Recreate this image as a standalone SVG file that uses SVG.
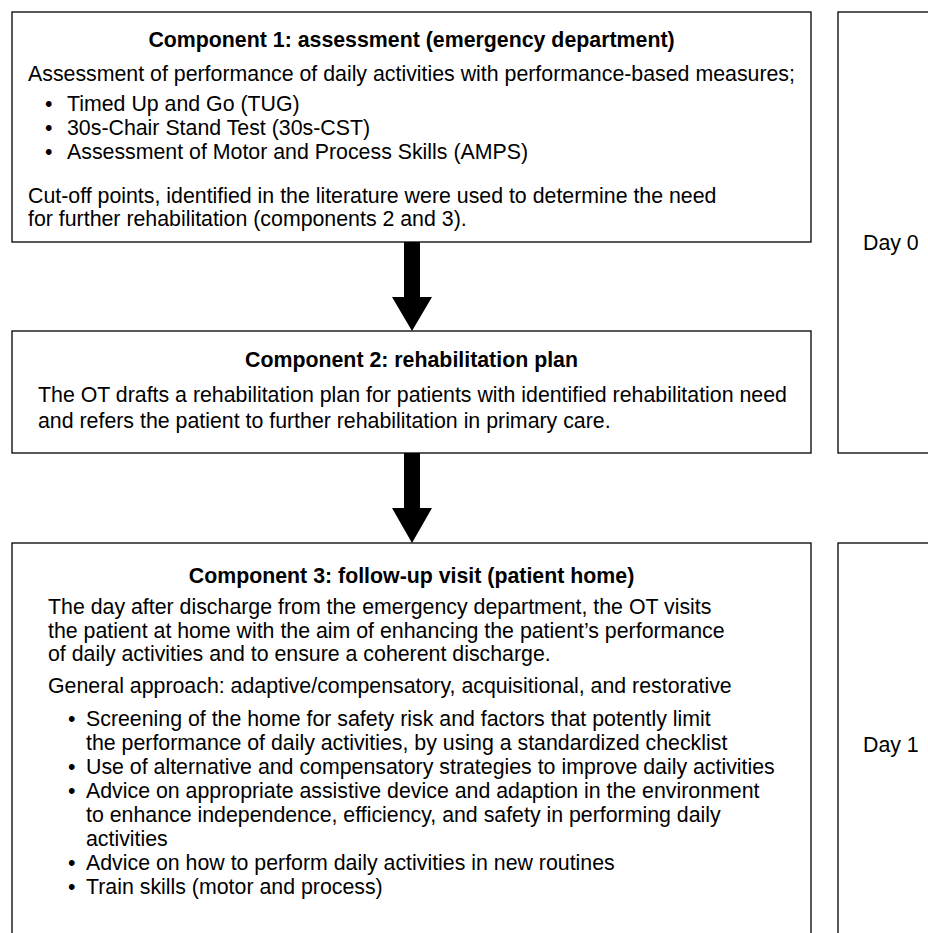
<svg xmlns="http://www.w3.org/2000/svg" width="928" height="933" viewBox="0 0 928 933">
<style>
.box{fill:#fff;stroke:#000;stroke-width:1.3}
text{font-family:"Liberation Sans",Arial,sans-serif;font-size:21.33px;fill:#000}
.t{font-weight:bold;text-anchor:middle}
.arrow{fill:#000}
</style>
<rect width="928" height="933" fill="#fff"/>
<g id="node-component1">
<rect class="box" x="12" y="12" width="799" height="230"/>
<text class="t" x="411.5" y="47">Component 1: assessment (emergency department)</text>
<text x="28" y="80.5">Assessment of performance of daily activities with performance-based measures;</text>
<text x="45" y="110.5">•</text><text x="67" y="110.5">Timed Up and Go (TUG)</text>
<text x="45" y="134.5">•</text><text x="67" y="134.5">30s-Chair Stand Test (30s-CST)</text>
<text x="45" y="158.5">•</text><text x="67" y="158.5">Assessment of Motor and Process Skills (AMPS)</text>
<text x="28" y="202.5">Cut-off points, identified in the literature were used to determine the need</text>
<text x="28" y="225.5">for further rehabilitation (components 2 and 3).</text>
</g>
<g id="node-component2">
<rect class="box" x="12" y="331" width="799" height="122"/>
<text class="t" x="411.5" y="367">Component 2: rehabilitation plan</text>
<text x="38" y="402">The OT drafts a rehabilitation plan for patients with identified rehabilitation need</text>
<text x="38" y="427.5">and refers the patient to further rehabilitation in primary care.</text>
</g>
<g id="node-component3">
<rect class="box" x="12" y="543" width="799" height="420"/>
<text class="t" x="411.5" y="582.5">Component 3: follow-up visit (patient home)</text>
<text x="48" y="613.5">The day after discharge from the emergency department, the OT visits</text>
<text x="48" y="637.5">the patient at home with the aim of enhancing the patient’s performance</text>
<text x="48" y="661">of daily activities and to ensure a coherent discharge.</text>
<text x="48" y="693">General approach: adaptive/compensatory, acquisitional, and restorative</text>
<text x="68" y="725.5">•</text><text x="86" y="725.5">Screening of the home for safety risk and factors that potently limit</text>
<text x="86" y="749.5">the performance of daily activities, by using a standardized checklist</text>
<text x="68" y="773.5">•</text><text x="86" y="773.5">Use of alternative and compensatory strategies to improve daily activities</text>
<text x="68" y="797.5">•</text><text x="86" y="797.5">Advice on appropriate assistive device and adaption in the environment</text>
<text x="86" y="821.5">to enhance independence, efficiency, and safety in performing daily</text>
<text x="86" y="845.5">activities</text>
<text x="68" y="869.5">•</text><text x="86" y="869.5">Advice on how to perform daily activities in new routines</text>
<text x="68" y="893.5">•</text><text x="86" y="893.5">Train skills (motor and process)</text>
</g>
<g id="node-day0">
<rect class="box" x="838" y="12" width="120" height="441"/>
<text x="863" y="250">Day 0</text>
</g>
<g id="node-day1">
<rect class="box" x="838" y="543" width="120" height="420"/>
<text x="863" y="752">Day 1</text>
</g>
<g id="connectors">
<polygon class="arrow" points="404,242 420,242 420,297 432,297 412,331 392,297 404,297"/>
<polygon class="arrow" points="404,453 420,453 420,508 432,508 412,543 392,508 404,508"/>
</g>
</svg>
